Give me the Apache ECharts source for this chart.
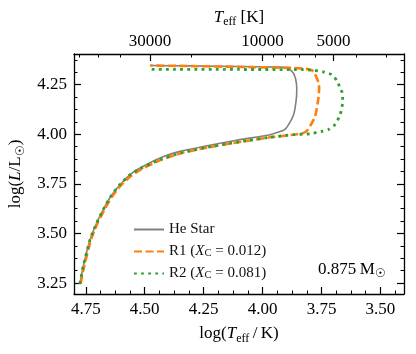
<!DOCTYPE html>
<html>
<head>
<meta charset="utf-8">
<style>
  html, body { margin: 0; padding: 0; background: #fff; }
  #chart { width: 416px; height: 354px; }
</style>
<script src="https://cdn.jsdelivr.net/npm/echarts@6/dist/echarts.min.js"></script>
</head>
<body>
<div id="chart"></div>
<script>
// He star track
var heLogT = [4.775, 4.761, 4.732, 4.704, 4.676, 4.645, 4.605, 4.562, 4.520, 4.435, 4.350, 4.251, 4.110, 3.968, 3.935, 3.905, 3.884, 3.868, 3.862, 3.856, 3.855, 3.860, 3.870, 3.885, 3.898, 3.926, 4.100, 4.300, 4.477]
var heLogL = [3.247, 3.334, 3.469, 3.553, 3.620, 3.685, 3.746, 3.797, 3.830, 3.881, 3.914, 3.939, 3.970, 3.998, 4.010, 4.025, 4.060, 4.100, 4.133, 4.190, 4.234, 4.280, 4.310, 4.328, 4.335, 4.339, 4.342, 4.345, 4.347]
// R1
var r1LogT = [4.772, 4.757, 4.728, 4.700, 4.671, 4.640, 4.600, 4.556, 4.513, 4.428, 4.342, 4.245, 4.105, 3.968, 3.870, 3.827, 3.810, 3.799, 3.777, 3.763, 3.760, 3.763, 3.770, 3.785, 3.805, 3.827, 3.870, 4.100, 4.300, 4.477]
var r1LogL = [3.247, 3.334, 3.469, 3.553, 3.620, 3.684, 3.744, 3.792, 3.825, 3.873, 3.906, 3.931, 3.960, 3.985, 3.998, 4.007, 4.020, 4.040, 4.091, 4.183, 4.234, 4.260, 4.284, 4.318, 4.328, 4.331, 4.335, 4.340, 4.344, 4.347]
// R2
var r2LogT = [4.775, 4.761, 4.732, 4.704, 4.676, 4.645, 4.605, 4.562, 4.518, 4.430, 4.344, 4.247, 4.105, 3.968, 3.870, 3.799, 3.749, 3.721, 3.693, 3.671, 3.660, 3.662, 3.671, 3.685, 3.707, 3.742, 3.785, 3.827, 4.100, 4.477]
var r2LogL = [3.247, 3.334, 3.469, 3.553, 3.620, 3.686, 3.747, 3.797, 3.828, 3.875, 3.907, 3.932, 3.961, 3.985, 3.998, 4.003, 4.015, 4.024, 4.049, 4.099, 4.166, 4.209, 4.234, 4.271, 4.301, 4.315, 4.323, 4.326, 4.327, 4.328]

var seriesNames = ['He Star', 'R1 (X_C = 0.012)', 'R2 (X_C = 0.081)']
var massLabel = '0.875'

var xTicks = [3.5, 3.75, 4.0, 4.25, 4.5, 4.75]
var yTicks = [3.25, 3.5, 3.75, 4.0, 4.25]
var teffMajor = [30000, 10000, 5000]
var teffMinor = [60000, 50000, 40000, 20000, 9000, 8000, 7000, 6000, 4000, 3000]

var X_MIN = 3.4, X_MAX = 4.8, Y_MIN = 3.195, Y_MAX = 4.405

function minorTicks(lo, hi, step, majorStep) {
  var out = []
  for (var k = Math.ceil(lo / step); k * step <= hi; k++) {
    var v = k * step
    if (Math.abs(v / majorStep - Math.round(v / majorStep)) > 1e-6) out.push(v)
  }
  return out
}
function pairs(xs, ys) {
  return xs.map(function (x, i) { return [x, ys[i]] })
}

var FONT = 'Liberation Serif'
var rich = {
  i: { fontFamily: FONT, fontStyle: 'italic', fontSize: 17, color: '#000' },
  s: { fontFamily: FONT, fontSize: 12, color: '#000', verticalAlign: 'bottom', lineHeight: 10 }
}
var richSmall = {
  i: { fontFamily: FONT, fontStyle: 'italic', fontSize: 15, color: '#111' },
  s: { fontFamily: FONT, fontSize: 10.5, color: '#111', verticalAlign: 'bottom', lineHeight: 8 }
}
var nameStyle = { fontFamily: FONT, fontSize: 17, color: '#000', lineHeight: 22, rich: rich }
var lineStyleAx = { color: '#000', width: 1.3 }

function majorAxis(extra) {
  return Object.assign({
    type: 'value', gridIndex: 0,
    axisLine: { show: true, lineStyle: lineStyleAx },
    splitLine: { show: false },
    axisTick: { show: true, inside: true, length: 7, lineStyle: { color: '#000', width: 1.2 } },
    axisLabel: { show: true, fontFamily: FONT, fontSize: 17, color: '#000', margin: 7 }
  }, extra)
}
function minorAxis(extra, vals) {
  return Object.assign({
    type: 'value', gridIndex: 0,
    axisLine: { show: false },
    splitLine: { show: false },
    axisTick: { show: true, inside: true, length: 3.5, customValues: vals, lineStyle: { color: '#000', width: 1 } },
    axisLabel: { show: false }
  }, extra)
}

var xRange = { min: X_MIN, max: X_MAX, inverse: true }
var yRange = { min: Y_MIN, max: Y_MAX }

var chart = echarts.init(document.getElementById('chart'), null, { renderer: 'canvas' })
chart.setOption({
  animation: false,
  backgroundColor: '#fff',
  grid: { left: 74, right: 12, top: 54, bottom: 60, containLabel: false, outerBoundsMode: 'none' },
  xAxis: [
    majorAxis(Object.assign({
      position: 'bottom',
      name: 'log({i|T}{s|eff}\u2009/\u2009K)', nameLocation: 'middle', nameGap: 26, nameTextStyle: nameStyle,
      axisTick: { show: true, inside: true, length: 7, customValues: xTicks, lineStyle: { color: '#000', width: 1.2 } },
      axisLabel: { show: true, customValues: xTicks, fontFamily: FONT, fontSize: 17, color: '#000', margin: 7,
        formatter: function (v) { return v.toFixed(2) } }
    }, xRange)),
    minorAxis(Object.assign({ position: 'bottom' }, xRange), minorTicks(X_MIN, X_MAX, 0.0625, 0.25)),
    majorAxis(Object.assign({
      position: 'top',
      name: '{i|T}{s|eff} [K]', nameLocation: 'middle', nameGap: 23, nameTextStyle: nameStyle,
      axisTick: { show: true, inside: true, length: 7, customValues: teffMajor.map(Math.log10), lineStyle: { color: '#000', width: 1.2 } },
      axisLabel: { show: true, customValues: teffMajor.map(Math.log10), fontFamily: FONT, fontSize: 17, color: '#000', margin: 4,
        formatter: function (v) { return String(Math.round(Math.pow(10, v))) } }
    }, xRange)),
    minorAxis(Object.assign({ position: 'top' }, xRange), teffMinor.map(Math.log10))
  ],
  yAxis: [
    majorAxis(Object.assign({
      position: 'left',
      name: 'log({i|L}/L{s|\u2609})', nameLocation: 'middle', nameGap: 42, nameTextStyle: nameStyle,
      axisTick: { show: true, inside: true, length: 7, customValues: yTicks, lineStyle: { color: '#000', width: 1.2 } },
      axisLabel: { show: true, customValues: yTicks, fontFamily: FONT, fontSize: 17, color: '#000', margin: 7,
        formatter: function (v) { return v.toFixed(2) } }
    }, yRange)),
    minorAxis(Object.assign({ position: 'left' }, yRange), minorTicks(Y_MIN, Y_MAX, 0.0625, 0.25)),
    majorAxis(Object.assign({
      position: 'right',
      axisTick: { show: true, inside: true, length: 7, customValues: yTicks, lineStyle: { color: '#000', width: 1.2 } },
      axisLabel: { show: false }
    }, yRange)),
    minorAxis(Object.assign({ position: 'right' }, yRange), minorTicks(Y_MIN, Y_MAX, 0.0625, 0.25))
  ],
  legend: {
    orient: 'vertical', left: 128, top: 217,
    itemWidth: 30, itemHeight: 14, itemGap: 7,
    data: seriesNames,
    itemStyle: { opacity: 0 },
    textStyle: { fontFamily: FONT, fontSize: 15, color: '#111', rich: richSmall },
    formatter: function (name) { return name.replace('X_C', '{i|X}{s|C}') }
  },
  graphic: [{
    type: 'text', left: 318, top: 261,
    style: {
      text: '{n|' + massLabel + '\u2009M}{s|\u2609}',
      rich: {
        n: { fontFamily: FONT, fontSize: 17, fill: '#000', lineHeight: 20 },
        s: { fontFamily: FONT, fontSize: 12, fill: '#000', verticalAlign: 'bottom', lineHeight: 10 }
      }
    }
  }],
  series: [
    { name: seriesNames[0], type: 'line', xAxisIndex: 0, yAxisIndex: 0, symbol: 'none', smooth: 0.2,
      lineStyle: { color: '#808080', width: 1.6 }, itemStyle: { color: '#808080' },
      data: pairs(heLogT, heLogL) },
    { name: seriesNames[1], type: 'line', xAxisIndex: 0, yAxisIndex: 0, symbol: 'none', smooth: 0.2,
      lineStyle: { color: '#ff7f0e', width: 2.6, type: [8, 3.5] }, itemStyle: { color: '#ff7f0e' },
      data: pairs(r1LogT, r1LogL) },
    { name: seriesNames[2], type: 'line', xAxisIndex: 0, yAxisIndex: 0, symbol: 'none', smooth: 0.2,
      lineStyle: { color: '#2ca02c', width: 2.8, type: [2.8, 4.3] }, itemStyle: { color: '#2ca02c' },
      data: pairs(r2LogT, r2LogL) }
  ]
})
</script>
</body>
</html>
